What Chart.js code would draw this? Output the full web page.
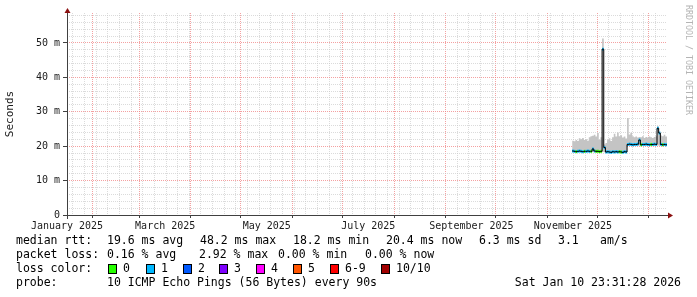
<!DOCTYPE html>
<html>
<head>
<meta charset="utf-8">
<title>SmokePing - median rtt</title>
<script src="https://cdn.jsdelivr.net/npm/chart.js@4.4.1/dist/chart.umd.min.js"></script>
<style>
    html, body { margin: 0; padding: 0; background: #ffffff; }
    #chart { display: block; }
</style>
</head>
<body>
<canvas id="chart" width="697" height="297"></canvas>
<script>
/* --------------------------------------------
   Data (x = day of year 2025, day 0 = Jan 1)
-------------------------------------------- */
const days = [
    319, 320, 321, 322, 323, 324, 325, 326, 327, 328, 329, 330, 331, 332, 333, 334, 335, 336,
    337, 338, 339, 340, 341, 342, 343, 344, 345, 346, 347, 348, 349, 350, 351,
    352, 353, 354, 355, 356, 357, 358, 359, 360, 361, 362, 363, 364, 365, 366, 367, 368, 369,
    370, 371, 372, 373, 374, 375, 376
];

/* median rtt in ms */
const medianMs = [
    18.6, 18.5, 18.4, 18.5, 18.6, 18.5, 18.4, 18.5, 18.5, 18.6, 18.5, 18.5, 19.2, 18.6, 18.5, 18.5, 18.4, 18.5,
    48.2, 19.6, 18.3, 18.4, 18.3, 18.2, 18.4, 18.3, 18.4, 18.3, 18.4, 18.3, 18.2, 18.4, 18.3,
    20.5, 20.6, 20.5, 20.4, 20.5, 20.5, 20.6, 21.8, 20.4, 20.5, 20.5, 20.6, 20.5, 20.4, 20.5, 20.5, 20.6, 20.5,
    25.2, 23.8, 20.5, 20.4, 20.5, 20.4, 20.4
];

/* smoke (spread of the pings) */
const smokeHighMs = [
    21.6, 21.4, 21.8, 21.5, 22.3, 22.0, 22.4, 21.8, 22.0, 21.6, 22.6, 22.9, 23.0, 23.3, 22.8, 23.8, 21.9, 22.6,
    51.3, 20.5, 20.9, 21.9, 22.3, 21.5, 22.6, 23.6, 22.8, 24.0, 22.9, 23.2, 22.5, 22.8, 22.2,
    28.2, 23.4, 23.9, 22.9, 22.6, 22.8, 22.5, 22.7, 22.6, 22.9, 22.4, 22.7, 22.5, 22.8, 22.6, 22.4, 22.7, 22.9,
    25.8, 24.2, 23.1, 22.9, 23.3, 22.8, 22.8
];
const smokeLowMs = [
    18.2, 18.2, 18.2, 18.2, 18.2, 18.2, 18.2, 18.2, 18.2, 18.2, 18.2, 18.2, 18.3, 18.2, 18.2, 18.2, 18.2, 18.2,
    18.4, 18.2, 18.1, 18.1, 18.1, 18.1, 18.1, 18.1, 18.1, 18.1, 18.1, 18.1, 18.1, 18.1, 18.1,
    20.1, 20.1, 20.1, 20.1, 20.1, 20.1, 20.1, 20.2, 20.1, 20.1, 20.1, 20.1, 20.1, 20.1, 20.1, 20.1, 20.1, 20.1,
    20.2, 20.1, 20.1, 20.1, 20.1, 20.1, 20.1
];

/* lost pings (of 10) per step */
const lossCount = [
    1, 1, 0, 1, 1, 1, 1, 0, 1, 1, 1, 0, 1, 1, 0, 0, 0, 0,
    1, 1, 1, 1, 1, 1, 1, 1, 1, 1, 0, 0, 1, 1, 1,
    1, 1, 1, 1, 1, 1, 1, 1, 0, 1, 1, 1, 1, 1, 0, 1, 1, 1,
    1, 1, 1, 0, 1, 1, 1
];

/* axis */
const monthLabels = ["January 2025", "March 2025", "May 2025", "July 2025", "September 2025", "November 2025"];
const monthLabelDays = [15.5, 74.5, 135.5, 196.5, 258.5, 319.5];
const monthStartDays = [31, 59, 90, 120, 151, 181, 212, 243, 273, 304, 334, 365];
const xMinDay = 15.5;
const xMaxDay = 376;
const yMaxMs = 58.7;

/* loss legend */
const lossLegendLabels = ["0", "1", "2", "3", "4", "5", "6-9", "10/10"];
const lossLegendColors = ["#26ff00", "#00b8ff", "#0059ff", "#7e00ff", "#ff00ff", "#ff5500", "#ff0000", "#a10000"];

/* --------------------------------------------
   Helpers
-------------------------------------------- */
const lossColor = (n) => {
    if (n <= 5) return lossLegendColors[n];
    if (n < 10) return lossLegendColors[6];
    return lossLegendColors[7];
};

const toPoints = (arr) => days.map((d, i) => ({ x: d, y: arr[i] }));

/* only the flat parts of the median get the loss colour */
const lossSegments = [];
for (let i = 0; i < days.length - 1; i++) {
    lossSegments.push({ x: days[i], y: medianMs[i] });
    lossSegments.push({ x: days[i + 1], y: medianMs[i] });
    lossSegments.push({ x: days[i + 1], y: null });
}

const MAJOR = "rgba(240, 130, 130, 0.75)";
const MINOR = "rgba(200, 200, 200, 0.65)";

/* grid positions: month starts (major) + mondays (minor) */
const majorDays = new Set(monthStartDays);
const gridDays = [...monthStartDays];
for (let d = 19; d < xMaxDay; d += 7) {
    if (!majorDays.has(d)) gridDays.push(d);
}
const labelMap = {};
monthLabelDays.forEach((d, i) => { labelMap[d] = monthLabels[i]; });

/* --------------------------------------------
   Decoration: axes, arrows, legend lines
-------------------------------------------- */
const rrdDecor = {
    id: "rrdDecor",
    afterDraw(chart) {
        const { ctx, chartArea: a } = chart;
        const ax = Math.round(a.left) + 0.5;
        const ay = Math.round(a.bottom) + 0.5;
        ctx.save();

        ctx.strokeStyle = "#404040";
        ctx.lineWidth = 1;
        ctx.beginPath();
        ctx.moveTo(a.left - 4, ay);
        ctx.lineTo(a.right + 2, ay);
        ctx.moveTo(ax, a.bottom + 4);
        ctx.lineTo(ax, a.top - 1);
        ctx.stroke();

        ctx.fillStyle = "#8b1010";
        ctx.beginPath();
        ctx.moveTo(ax - 3, a.top);
        ctx.lineTo(ax + 3, a.top);
        ctx.lineTo(ax, a.top - 5);
        ctx.closePath();
        ctx.fill();
        ctx.beginPath();
        ctx.moveTo(a.right + 1, ay - 3);
        ctx.lineTo(a.right + 1, ay + 3);
        ctx.lineTo(a.right + 6, ay);
        ctx.closePath();
        ctx.fill();

        /* legend text */
        ctx.fillStyle = "#000000";
        ctx.font = "11.5px 'DejaVu Sans Mono'";
        ctx.textBaseline = "middle";
        ctx.textAlign = "left";
        const rows = [
            [241, [["median rtt:", 16], ["19.6 ms avg", 107], ["48.2 ms max", 200], ["18.2 ms min", 293],
                   ["20.4 ms now", 386], ["6.3 ms sd", 479], ["3.1", 558], ["am/s", 600]]],
            [255, [["packet loss:", 16], ["0.16 % avg", 107], ["2.92 % max", 199], ["0.00 % min", 278],
                   ["0.00 % now", 365]]],
            [269, [["loss color:", 16]]],
            [283.5, [["probe:", 16], ["10 ICMP Echo Pings (56 Bytes) every 90s", 107]]]
        ];
        rows.forEach(([y, parts]) => parts.forEach(([t, x]) => ctx.fillText(t, x, y)));
        ctx.textAlign = "right";
        ctx.fillText("Sat Jan 10 23:31:28 2026", 681, 283.5);

        /* loss color boxes */
        const boxX = [108, 146, 183, 219, 256, 293, 330, 381];
        ctx.textAlign = "left";
        lossLegendLabels.forEach((lab, i) => {
            ctx.fillStyle = lossLegendColors[i];
            ctx.fillRect(boxX[i], 264, 8, 9);
            ctx.strokeStyle = "#000000";
            ctx.strokeRect(boxX[i] + 0.5, 264.5, 8, 9);
            ctx.fillStyle = "#000000";
            ctx.fillText(lab, boxX[i] + 15, 269);
        });

        /* watermark */
        ctx.translate(688, 5);
        ctx.rotate(Math.PI / 2);
        ctx.fillStyle = "#b4b4b4";
        ctx.font = "8.3px 'DejaVu Sans Mono'";
        ctx.textAlign = "left";
        ctx.fillText("RRDTOOL / TOBI OETIKER", 0, 0);

        ctx.restore();
    }
};

/* --------------------------------------------
   Chart
-------------------------------------------- */
Chart.defaults.font.family = "'DejaVu Sans Mono'";
Chart.defaults.color = "#1a1a1a";

new Chart(document.getElementById("chart"), {
    type: "line",
    data: {
        datasets: [
            {
                label: "smoke low",
                data: toPoints(smokeLowMs),
                stepped: true,
                borderWidth: 0,
                pointRadius: 0,
                fill: false,
                order: 4
            },
            {
                label: "smoke high",
                data: toPoints(smokeHighMs),
                stepped: true,
                borderWidth: 0,
                pointRadius: 0,
                backgroundColor: "#c4c4c4",
                fill: "-1",
                order: 3
            },
            {
                label: "loss",
                data: lossSegments,
                spanGaps: false,
                borderWidth: 3,
                borderCapStyle: "butt",
                pointRadius: 0,
                borderColor: lossColor(1),
                segment: {
                    borderColor: (c) => lossColor(lossCount[Math.floor(c.p0DataIndex / 3)])
                },
                fill: false,
                order: 2
            },
            {
                label: "median rtt",
                data: toPoints(medianMs),
                stepped: true,
                borderWidth: 1,
                pointRadius: 0,
                borderColor: "#000000",
                fill: false,
                order: 1
            }
        ]
    },
    options: {
        responsive: false,
        devicePixelRatio: 1,
        animation: false,
        layout: { padding: { left: 0, right: 30, top: 13, bottom: 0 } },
        plugins: {
            legend: { display: false },
            tooltip: { enabled: false }
        },
        scales: {
            x: {
                type: "linear",
                min: xMinDay,
                max: xMaxDay,
                afterBuildTicks: (axis) => {
                    const vals = [...gridDays, ...monthLabelDays].sort((a, b) => a - b);
                    axis.ticks = vals.map(v => ({ value: v }));
                },
                afterFit: (axis) => { axis.height = 82; },
                border: { display: false, dash: [1, 1] },
                grid: {
                    color: (c) => {
                        const v = c.tick ? c.tick.value : null;
                        if (majorDays.has(v)) return MAJOR;
                        if (labelMap[v] !== undefined) return "rgba(0,0,0,0)";
                        return MINOR;
                    },
                    tickColor: (c) => (c.tick && majorDays.has(c.tick.value)) ? "#404040" : "rgba(0,0,0,0)",
                    tickLength: 3
                },
                ticks: {
                    autoSkip: false,
                    maxRotation: 0,
                    minRotation: 0,
                    padding: 2,
                    font: { size: 10 },
                    callback: (v) => labelMap[v] || ""
                }
            },
            y: {
                min: 0,
                max: yMaxMs,
                afterBuildTicks: (axis) => {
                    const vals = [];
                    for (let v = 0; v <= 58; v += 2) vals.push(v);
                    axis.ticks = vals.map(v => ({ value: v }));
                },
                afterFit: (axis) => { axis.width = 67; },
                border: { display: false, dash: [1, 1] },
                grid: {
                    color: (c) => (c.tick && c.tick.value % 10 === 0) ? MAJOR : MINOR,
                    tickColor: (c) => (c.tick && c.tick.value % 10 === 0) ? "#404040" : "rgba(0,0,0,0)",
                    tickLength: 4
                },
                title: {
                    display: true,
                    text: "Seconds",
                    font: { size: 11 },
                    color: "#1a1a1a"
                },
                ticks: {
                    autoSkip: false,
                    padding: 3,
                    font: { size: 10 },
                    callback: (v) => (v % 10 === 0 ? (v === 0 ? "0" : v + " m") : "")
                }
            }
        }
    },
    plugins: [rrdDecor]
});
</script>
</body>
</html>
